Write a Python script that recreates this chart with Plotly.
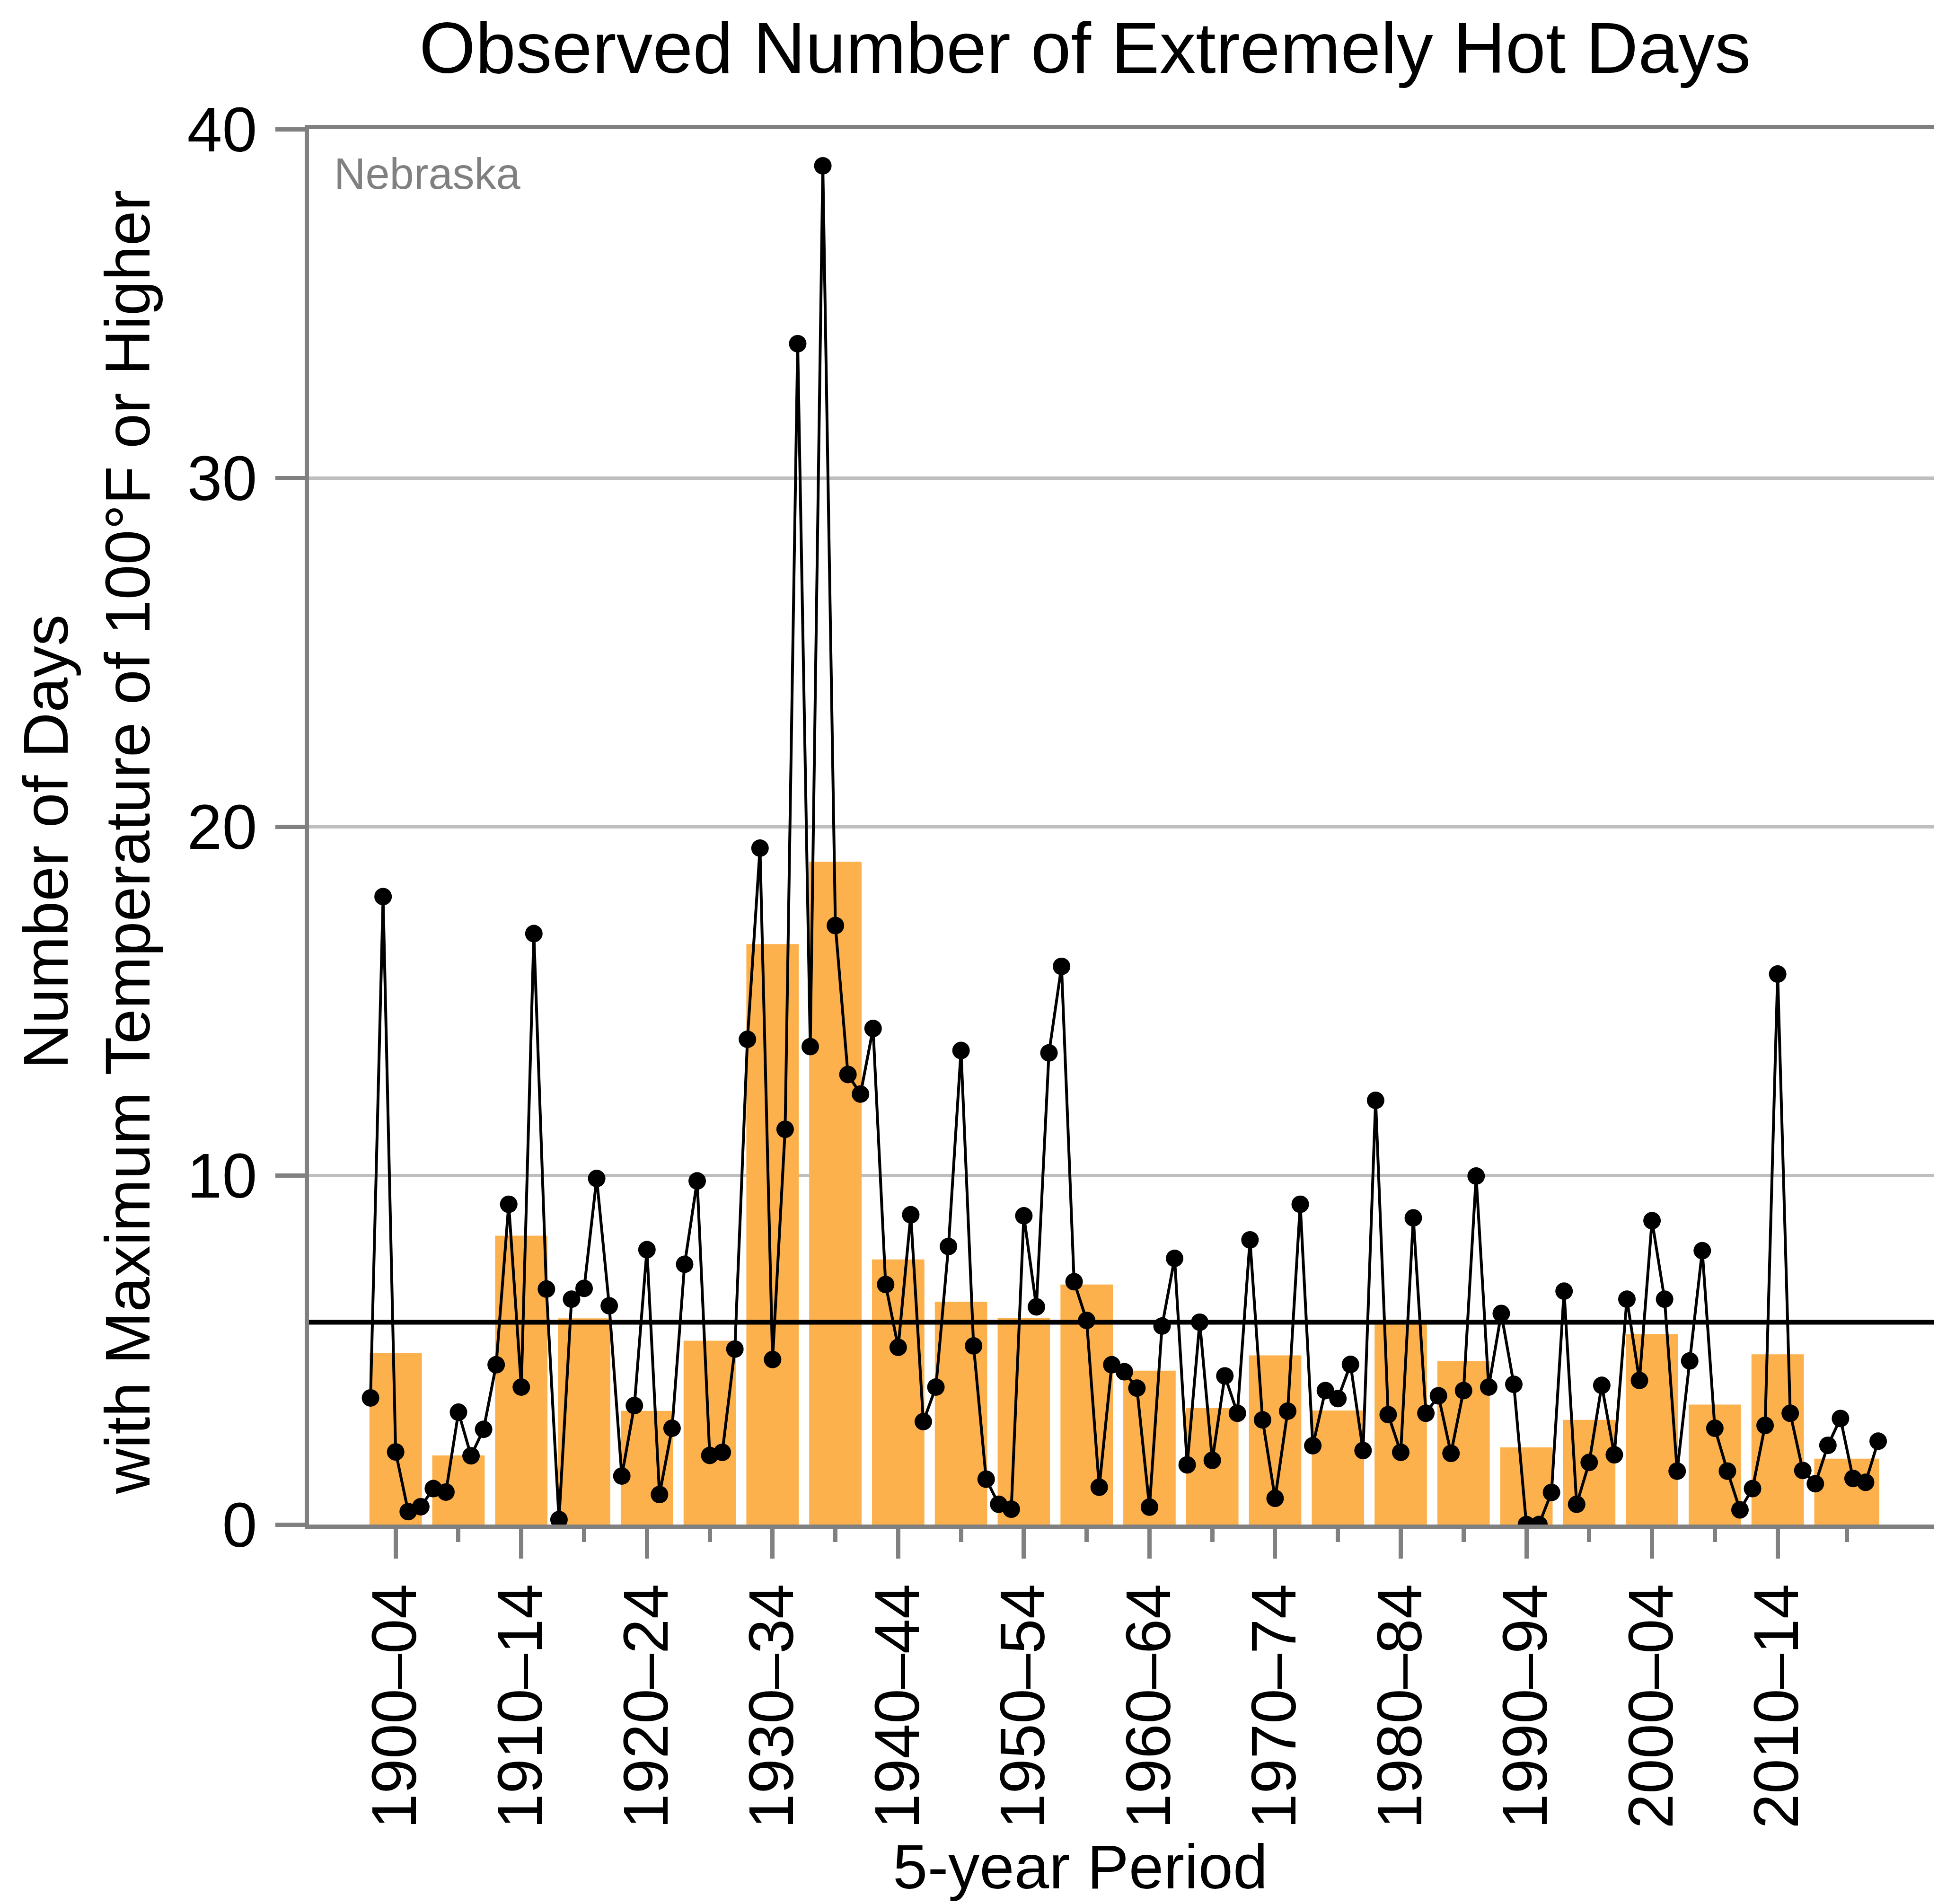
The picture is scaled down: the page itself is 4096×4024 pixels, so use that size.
import plotly.graph_objects as go

# yearly count of days >= 100F, Nebraska
years = list(range(1900, 2021))
hot_days = [
    3.63, 18.0, 2.08, 0.37, 0.51, 1.03, 0.93, 3.22, 1.97, 2.73,
    4.58, 9.18, 3.94, 16.94, 6.75, 0.14, 6.46, 6.77, 9.92, 6.27,
    1.39, 3.41, 7.88, 0.86, 2.76, 7.46, 9.85, 1.98, 2.07, 5.03,
    13.91, 19.39, 4.73, 11.33, 33.85, 13.70, 38.95, 17.17, 12.90, 12.34,
    14.22, 6.88, 5.08, 8.88, 2.95, 3.94, 7.97, 13.59, 5.12, 1.30,
    0.58, 0.44, 8.85, 6.24, 13.52, 16.00, 6.96, 5.85, 1.07, 4.58,
    4.38, 3.91, 0.50, 5.69, 7.63, 1.71, 5.80, 1.84, 4.26, 3.19,
    8.16, 3.00, 0.75, 3.25, 9.18, 2.26, 3.84, 3.61, 4.59, 2.12,
    12.16, 3.15, 2.07, 8.79, 3.19, 3.69, 2.04, 3.84, 9.99, 3.94,
    6.05, 4.02, 0.0, 0.0, 0.92, 6.69, 0.58, 1.78, 3.99, 2.00,
    6.46, 4.13, 8.71, 6.46, 1.53, 4.69, 7.85, 2.76, 1.53, 0.42,
    1.03, 2.84, 15.78, 3.19, 1.55, 1.17, 2.27, 3.04, 1.32, 1.21,
    2.39,
]

# 5-year period averages (last period runs 2015-2020)
period_start = list(range(1900, 2020, 5))
period_len = [5] * 23 + [6]
period_avg = [
    4.92, 1.98, 8.28, 5.91, 3.26, 5.27, 16.64, 19.00, 7.60, 6.39,
    5.92, 6.88, 4.41, 3.34, 4.85, 3.27, 5.87, 4.69, 2.21, 3.00,
    5.46, 3.44, 4.88, 1.89,
]
long_term_avg = 5.8

tick_labels = ['1900–04', '1910–14', '1920–24', '1930–34', '1940–44', '1950–54',
               '1960–64', '1970–74', '1980–84', '1990–94', '2000–04', '2010–14']

X_RANGE = [1895.1, 2024.8]
GRAY = '#808080'
FONT = 'Liberation Sans, Arial, sans-serif'

bar_x = [s + (n - 1) / 2 for s, n in zip(period_start, period_len)]
bar_w = [n - 0.83 for n in period_len]

fig = go.Figure()
fig.add_trace(go.Bar(x=bar_x, y=period_avg, width=bar_w,
                     marker=dict(color='#FDB14C', line=dict(width=0))))
fig.add_trace(go.Scatter(x=X_RANGE, y=[long_term_avg, long_term_avg], mode='lines',
                         line=dict(color='black', width=10), cliponaxis=True))
fig.add_trace(go.Scatter(x=years, y=hot_days, mode='lines+markers',
                         line=dict(color='black', width=6),
                         marker=dict(color='black', size=37)))

fig.update_layout(
    width=4096, height=4024,
    margin=dict(l=645, r=7, t=265, b=810),
    paper_bgcolor='white', plot_bgcolor='white',
    showlegend=False,
    font=dict(family=FONT, color='black', size=133),
)

fig.update_xaxes(
    range=X_RANGE, tickmode='array', tickvals=bar_x[0::2], ticktext=tick_labels,
    tickangle=-90, tickfont=dict(size=133),
    ticks='outside', ticklen=63, tickwidth=9, tickcolor=GRAY,
    showline=True, linecolor=GRAY, linewidth=9, mirror=True,
    showgrid=False, zeroline=False, automargin=False,
    minor=dict(tickmode='array', tickvals=bar_x[1::2], ticks='outside',
               ticklen=28, tickwidth=9, tickcolor=GRAY, showgrid=False),
)
fig.update_yaxes(
    range=[0, 40], tickmode='array', tickvals=[0, 10, 20, 30, 40],
    tickfont=dict(size=133), ticklabelstandoff=12,
    ticks='outside', ticklen=62, tickwidth=9, tickcolor=GRAY,
    showline=True, linecolor=GRAY, linewidth=9, mirror=True,
    showgrid=True, gridcolor='#BEBEBE', gridwidth=7, zeroline=False,
    automargin=False,
)

fig.add_annotation(text='Observed Number of Extremely Hot Days', xref='paper', yref='paper',
                   x=0.4762, y=1.0585, xanchor='center', yanchor='middle', showarrow=False,
                   font=dict(size=153))
fig.add_annotation(text='5-year Period', xref='paper', yref='paper',
                   x=0.4733, y=-0.2455, xanchor='center', yanchor='middle', showarrow=False,
                   font=dict(size=132))
fig.add_annotation(text='Number of Days<br>with Maximum Temperature of 100°F or Higher',
                   xref='paper', yref='paper', x=-0.1361, y=0.489, textangle=-90,
                   xanchor='center', yanchor='middle', showarrow=False,
                   font=dict(size=133))
fig.add_annotation(text='Nebraska', xref='paper', yref='paper', x=0.0148, y=0.9681,
                   xanchor='left', yanchor='middle', showarrow=False,
                   font=dict(size=92, color=GRAY,
                             family='Liberation Sans Narrow, Arial Narrow, Liberation Sans, sans-serif'))

fig.write_html("out.html")
